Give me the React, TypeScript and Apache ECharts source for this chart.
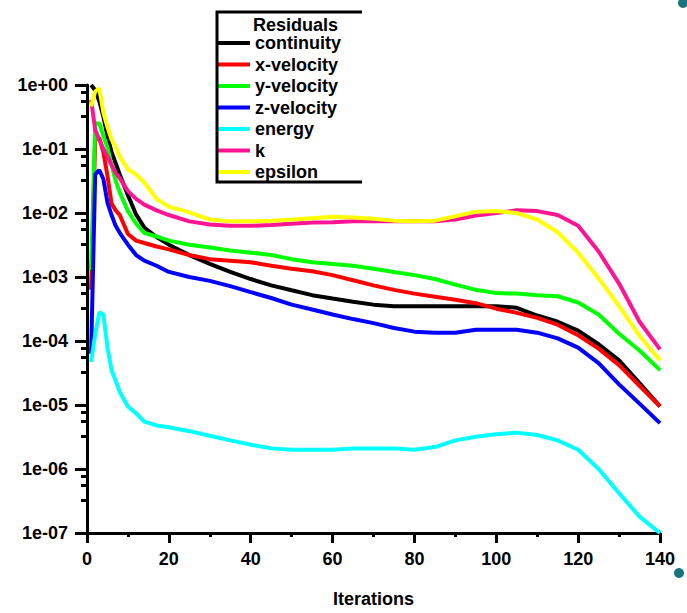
import React, { useEffect, useRef } from "react";
import * as echarts from "echarts";

const iterations = [1, 2, 3, 4, 5, 6, 7, 8, 10, 12, 14, 17, 20, 25, 30, 35, 40, 45, 50, 55, 60, 65, 70, 75, 80, 85, 90, 95, 100, 105, 110, 115, 120, 125, 130, 135, 140];

const continuity = [1.0, 0.83, 0.56, 0.32, 0.16, 0.089, 0.06, 0.04, 0.019, 0.0095, 0.0059, 0.0042, 0.0032, 0.0022, 0.0016, 0.0012, 9.3e-4, 7.4e-4, 6.2e-4, 5.2e-4, 4.6e-4, 4.1e-4, 3.7e-4, 3.5e-4, 3.5e-4, 3.5e-4, 3.5e-4, 3.5e-4, 3.5e-4, 3.3e-4, 2.5e-4, 2.0e-4, 1.45e-4, 8.9e-5, 5.0e-5, 2.2e-5, 9.5e-6];
const xVelocity = [6.3e-4, 0.14, 0.15, 0.089, 0.038, 0.014, 0.011, 0.0093, 0.0047, 0.0037, 0.0034, 0.003, 0.0027, 0.0022, 0.0019, 0.0018, 0.0017, 0.0015, 0.00135, 0.00123, 0.00107, 8.9e-4, 7.4e-4, 6.3e-4, 5.5e-4, 4.9e-4, 4.4e-4, 3.9e-4, 3.2e-4, 2.75e-4, 2.3e-4, 1.8e-4, 1.23e-4, 7.6e-5, 4.2e-5, 2.0e-5, 9.5e-6];
const yVelocity = [1.26e-3, 0.25, 0.25, 0.16, 0.105, 0.056, 0.032, 0.021, 0.0107, 0.0068, 0.0049, 0.0043, 0.0037, 0.0032, 0.0029, 0.0026, 0.0024, 0.0022, 0.0019, 0.0017, 0.0016, 0.0015, 0.00135, 0.0012, 0.00107, 9.3e-4, 7.6e-4, 6.3e-4, 5.6e-4, 5.5e-4, 5.2e-4, 5.0e-4, 4.0e-4, 2.6e-4, 1.3e-4, 7.1e-5, 3.5e-5];
const zVelocity = [6.3e-5, 0.04, 0.047, 0.034, 0.0145, 0.0093, 0.0063, 0.0049, 0.0032, 0.0022, 0.0018, 0.0015, 0.0012, 0.001, 8.7e-4, 7.2e-4, 5.8e-4, 4.7e-4, 3.7e-4, 3.1e-4, 2.6e-4, 2.2e-4, 1.9e-4, 1.6e-4, 1.4e-4, 1.35e-4, 1.35e-4, 1.5e-4, 1.5e-4, 1.5e-4, 1.35e-4, 1.1e-4, 7.9e-5, 4.5e-5, 2.1e-5, 1.05e-5, 5.2e-6];
const energy = [4.7e-5, 1.26e-4, 2.8e-4, 2.6e-4, 7.9e-5, 3.5e-5, 2.4e-5, 1.6e-5, 9.5e-6, 7.4e-6, 5.5e-6, 4.8e-6, 4.5e-6, 3.9e-6, 3.3e-6, 2.8e-6, 2.4e-6, 2.1e-6, 2.0e-6, 2.0e-6, 2.0e-6, 2.1e-6, 2.1e-6, 2.1e-6, 2.0e-6, 2.2e-6, 2.8e-6, 3.2e-6, 3.5e-6, 3.7e-6, 3.4e-6, 2.8e-6, 2.0e-6, 1.0e-6, 4.2e-7, 1.8e-7, 1.0e-7];
const kResidual = [0.59, 0.2, 0.14, 0.1, 0.076, 0.056, 0.042, 0.035, 0.022, 0.0166, 0.0135, 0.011, 0.0093, 0.0074, 0.0066, 0.0063, 0.0063, 0.0065, 0.0068, 0.0071, 0.0072, 0.0074, 0.0074, 0.0074, 0.0074, 0.0074, 0.0079, 0.0091, 0.01, 0.011, 0.0107, 0.0093, 0.0063, 0.0025, 7.9e-4, 2.0e-4, 7.4e-5];
const epsilon = [0.46, 0.79, 0.89, 0.37, 0.22, 0.14, 0.107, 0.076, 0.048, 0.04, 0.03, 0.0166, 0.0126, 0.0102, 0.0079, 0.0074, 0.0074, 0.0076, 0.0079, 0.0083, 0.0087, 0.0085, 0.0081, 0.0076, 0.0074, 0.0076, 0.0089, 0.0105, 0.0107, 0.01, 0.0079, 0.005, 0.0024, 9.5e-4, 3.5e-4, 1.2e-4, 5.0e-5];

const seriesNames = ["continuity", "x-velocity", "y-velocity", "z-velocity", "energy", "k", "epsilon"];
const seriesColors = ["#000000", "#ff0000", "#00ff00", "#0000ff", "#00ffff", "#ff1493", "#ffff00"];
const seriesValues = [continuity, xVelocity, yVelocity, zVelocity, energy, kResidual, epsilon];

const yTickLabels = ["1e-07", "1e-06", "1e-05", "1e-04", "1e-03", "1e-02", "1e-01", "1e+00"];
const legendTitle = "Residuals";
const xAxisTitle = "Iterations";

const FONT = "Liberation Sans, Arial, sans-serif";

export default function App() {
  const ref = useRef<HTMLDivElement>(null);
  useEffect(() => {
    if (!ref.current) return;
    const chart = echarts.init(ref.current, undefined, { renderer: "svg" });
    const textBase = { color: "#000", fontFamily: FONT, fontWeight: "bold" as const, fontSize: 18 };
    chart.setOption({
      animation: false,
      backgroundColor: "#ffffff",
      grid: { left: 87, right: 27, top: 85, bottom: 75, containLabel: false },
      legend: {
        orient: "vertical",
        left: 216,
        top: 34,
        padding: 0,
        itemWidth: 34,
        itemHeight: 4,
        itemGap: 3.5,
        icon: "rect",
        selectedMode: false,
        textStyle: { ...textBase, lineHeight: 18 },
        data: seriesNames,
      },
      xAxis: {
        type: "value",
        min: 0,
        max: 140,
        interval: 20,
        name: xAxisTitle,
        nameLocation: "middle",
        nameGap: 57,
        nameTextStyle: textBase,
        axisLine: { show: true, onZero: false, lineStyle: { color: "#000", width: 3 } },
        axisTick: { show: true, length: 10, lineStyle: { color: "#000", width: 3 } },
        minorTick: { show: true, splitNumber: 2, length: 4, lineStyle: { color: "#000", width: 3 } },
        axisLabel: { ...textBase, margin: 17 },
        splitLine: { show: false },
        minorSplitLine: { show: false },
      },
      yAxis: {
        type: "log",
        logBase: 10,
        min: 1e-7,
        max: 1,
        splitNumber: 7,
        axisLine: { show: true, onZero: false, lineStyle: { color: "#000", width: 3 } },
        axisTick: { show: true, length: 12, lineStyle: { color: "#000", width: 3 } },
        minorTick: { show: true, splitNumber: 4, length: 6, lineStyle: { color: "#000", width: 3 } },
        axisLabel: {
          ...textBase,
          margin: 19,
          formatter: (v: number) => {
            const e = Math.round(Math.log10(v));
            return yTickLabels[e + 7] ?? "";
          },
        },
        splitLine: { show: false },
        minorSplitLine: { show: false },
      },
      graphic: [
        {
          type: "polyline",
          shape: { points: [[362, 12], [217, 12], [217, 182], [362, 182]] },
          style: { stroke: "#000", lineWidth: 3, fill: "none" },
          z: 10,
        },
        {
          type: "text",
          left: 253,
          top: 16,
          style: { text: legendTitle, fill: "#000", font: `bold 18px ${FONT}` },
          z: 10,
        },
        { type: "circle", shape: { cx: 683, cy: 3, r: 5 }, style: { fill: "#17737c" }, z: 10 },
        { type: "circle", shape: { cx: 679, cy: 573, r: 5 }, style: { fill: "#17737c" }, z: 10 },
      ],
      series: seriesNames.map((name, i) => ({
        name,
        type: "line",
        symbol: "none",
        showSymbol: false,
        clip: true,
        color: seriesColors[i],
        lineStyle: { color: seriesColors[i], width: 4 },
        data: iterations.map((x, j) => [x, seriesValues[i][j]]),
      })),
    });
    return () => chart.dispose();
  }, []);
  return <div ref={ref} style={{ position: "fixed", left: 0, top: 0, width: 687, height: 613 }} />;
}
